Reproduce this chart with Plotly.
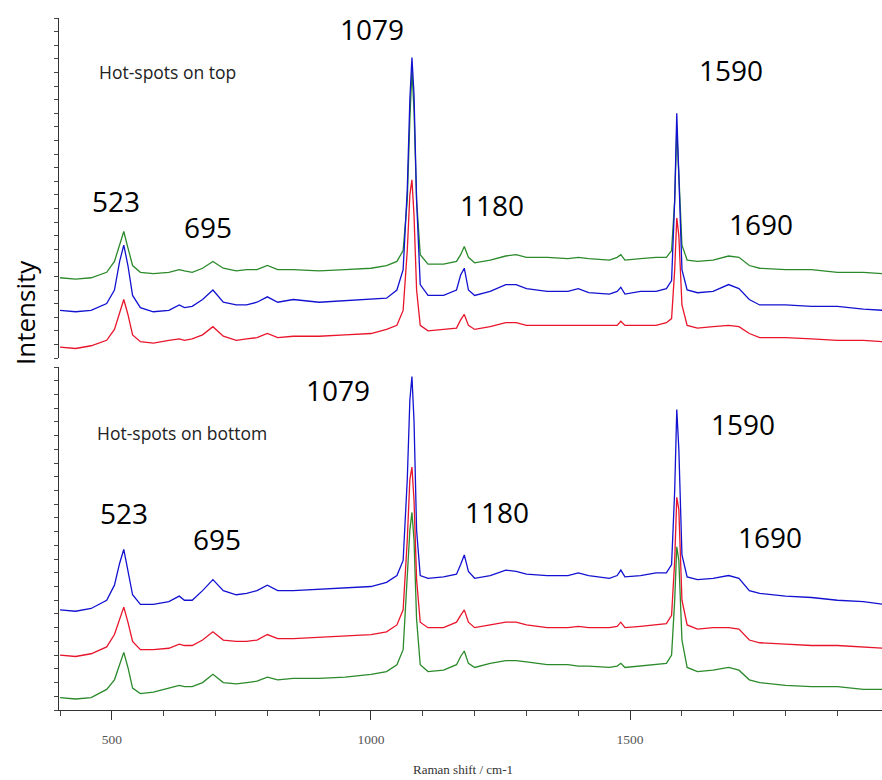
import plotly.graph_objects as go
from plotly.subplots import make_subplots

# ---------------- data ----------------
wavenumber = [400, 430, 460, 490, 505, 515, 523, 531, 540, 555, 580, 610, 630, 640, 655, 675, 695, 715,
              740, 760, 780, 800, 820, 850, 900, 950, 1000, 1030, 1050, 1062, 1070, 1075, 1079, 1083,
              1088, 1095, 1110, 1140, 1165, 1173, 1180, 1188, 1200, 1230, 1260, 1280, 1300, 1340, 1380,
              1400, 1420, 1460, 1475, 1482, 1490, 1520, 1550, 1570, 1580, 1586, 1590, 1594, 1600, 1610,
              1630, 1660, 1690, 1710, 1730, 1750, 1800, 1850, 1900, 1950, 1990]

# top panel: "Hot-spots on top"
top_green = [5.9, 5.8, 5.9, 6.3, 7.1, 8.3, 9.3, 8.1, 6.8, 6.3, 6.2, 6.3, 6.5, 6.4, 6.3, 6.6, 7.1, 6.6,
             6.4, 6.5, 6.5, 6.8, 6.5, 6.5, 6.4, 6.5, 6.6, 6.8, 7.1, 7.9, 11.6, 17.5, 21.2, 18.2,
             11.6, 7.6, 6.9, 6.9, 7.1, 7.6, 8.2, 7.4, 7.0, 7.2, 7.5, 7.6, 7.4, 7.4, 7.3,
             7.4, 7.3, 7.2, 7.4, 7.6, 7.2, 7.3, 7.4, 7.4, 7.9, 11.6, 16.8, 13.5, 8.3, 7.2,
             7.1, 7.2, 7.5, 7.4, 6.8, 6.6, 6.5, 6.5, 6.3, 6.3, 6.2]
top_blue = [3.5, 3.4, 3.5, 4.0, 5.0, 7.1, 8.3, 6.8, 4.6, 3.7, 3.4, 3.5, 3.9, 3.7, 3.8, 4.3, 5.0, 4.1,
            3.9, 3.9, 4.1, 4.5, 4.1, 4.3, 4.1, 4.2, 4.3, 4.4, 5.0, 6.5, 12.4, 19.0, 22.1, 19.4,
            11.6, 5.4, 4.6, 4.6, 5.0, 6.1, 6.6, 5.0, 4.6, 4.9, 5.4, 5.4, 5.1, 4.9, 4.9,
            5.1, 4.8, 4.7, 4.9, 5.2, 4.7, 4.9, 4.9, 5.1, 5.7, 11.6, 18.0, 13.8, 6.5, 5.0,
            4.8, 4.9, 5.4, 5.1, 4.3, 3.9, 3.9, 3.8, 3.8, 3.6, 3.5]
top_red = [0.8, 0.7, 0.9, 1.3, 2.1, 3.4, 4.3, 3.2, 1.7, 1.2, 1.1, 1.3, 1.4, 1.3, 1.4, 1.7, 2.3, 1.6,
           1.3, 1.4, 1.5, 1.8, 1.5, 1.6, 1.6, 1.7, 1.8, 2.1, 2.4, 3.5, 7.9, 12.0, 13.1, 10.5,
           5.0, 2.4, 2.0, 2.1, 2.2, 2.8, 3.2, 2.4, 2.1, 2.3, 2.6, 2.6, 2.4, 2.4, 2.4,
           2.4, 2.4, 2.4, 2.4, 2.7, 2.4, 2.4, 2.4, 2.6, 2.9, 6.5, 10.3, 9.0, 3.9, 2.4,
           2.2, 2.3, 2.4, 2.3, 1.8, 1.5, 1.5, 1.4, 1.3, 1.3, 1.2]

# bottom panel: "Hot-spots on bottom"
bot_blue = [7.3, 7.2, 7.4, 8.0, 9.1, 10.7, 11.7, 10.2, 8.4, 7.7, 7.7, 7.9, 8.3, 8.0, 8.0, 8.7, 9.5, 8.7,
            8.4, 8.5, 8.7, 9.1, 8.7, 8.7, 8.8, 8.9, 9.0, 9.3, 9.8, 10.9, 16.8, 22.6, 24.3, 21.1,
            13.1, 9.8, 9.6, 9.7, 9.9, 10.6, 11.3, 10.1, 9.6, 9.8, 10.2, 10.1, 9.9, 9.8, 9.8,
            10.0, 9.8, 9.6, 9.8, 10.2, 9.7, 9.8, 10.0, 10.0, 10.6, 16.0, 21.9, 19.0, 11.3, 9.7,
            9.5, 9.6, 9.8, 9.6, 8.7, 8.5, 8.3, 8.2, 8.0, 7.9, 7.7]
bot_red = [4.0, 3.9, 4.1, 4.6, 5.5, 6.7, 7.5, 6.4, 5.0, 4.4, 4.4, 4.5, 4.8, 4.7, 4.7, 5.1, 5.7, 5.1,
           5.0, 5.0, 5.1, 5.5, 5.2, 5.2, 5.3, 5.4, 5.5, 5.7, 6.2, 7.3, 12.4, 16.8, 17.7, 15.3,
           9.5, 6.4, 6.0, 6.0, 6.4, 6.9, 7.3, 6.4, 6.0, 6.2, 6.4, 6.4, 6.2, 6.0, 6.0,
           6.1, 6.0, 6.0, 6.1, 6.4, 6.0, 6.1, 6.2, 6.3, 6.9, 10.9, 15.5, 14.6, 8.0, 6.2,
           5.9, 6.0, 6.0, 5.9, 5.1, 4.9, 4.8, 4.7, 4.7, 4.6, 4.5]
bot_green = [0.9, 0.8, 0.9, 1.5, 2.2, 3.4, 4.2, 3.1, 1.6, 1.2, 1.3, 1.6, 1.8, 1.7, 1.7, 2.0, 2.6, 2.0,
             1.9, 2.0, 2.1, 2.4, 2.2, 2.3, 2.3, 2.4, 2.6, 2.8, 3.3, 4.4, 9.5, 13.1, 14.4, 12.4,
             6.6, 3.3, 2.8, 2.9, 3.3, 3.9, 4.3, 3.4, 3.1, 3.4, 3.6, 3.6, 3.5, 3.3, 3.3,
             3.2, 3.2, 3.1, 3.2, 3.4, 3.1, 3.2, 3.3, 3.4, 4.0, 8.0, 11.9, 10.9, 5.1, 3.1,
             2.8, 2.9, 3.1, 2.9, 2.2, 2.0, 1.8, 1.7, 1.7, 1.5, 1.5]

peak_labels = ["523", "695", "1079", "1180", "1590", "1690"]
panel_titles = ["Hot-spots on top", "Hot-spots on bottom"]
x_ticks = [500, 1000, 1500]
x_title = "Raman shift / cm-1"
y_title = "Intensity"

# ---------------- layout constants ----------------
W, H = 882, 780
ML, MR, MT, MB = 59, 0, 18, 70
PW, PH = W - ML - MR, H - MT - MB

def px(xp):
    return (xp - ML) / PW

def py(yp):
    return (H - MB - yp) / PH

GREEN = "#2b8a2b"
BLUE = "#1212d0"
RED = "#e8152b"
LBL_FONT = "'Open Sans', Lato, sans-serif"
SERIF = "'Liberation Serif', 'Times New Roman', serif"

fig = make_subplots(rows=2, cols=1, shared_xaxes=True)

def line(y, color, row):
    fig.add_trace(go.Scatter(x=wavenumber, y=y, mode="lines",
                             line=dict(color=color, width=1.3), showlegend=False,
                             hoverinfo="skip"), row=row, col=1)

line(top_green, GREEN, 1)
line(top_blue, BLUE, 1)
line(top_red, RED, 1)
line(bot_blue, BLUE, 2)
line(bot_green, GREEN, 2)
line(bot_red, RED, 2)

yax = dict(range=[0, 25], dtick=1, tick0=0, ticks="outside", ticklen=4, tickwidth=1,
           tickcolor="#444", showticklabels=False, showline=True, linecolor="#333",
           linewidth=1.2, showgrid=False, zeroline=False, fixedrange=True)

fig.update_layout(
    width=W, height=H,
    margin=dict(l=ML, r=MR, t=MT, b=MB),
    paper_bgcolor="white", plot_bgcolor="white",
    xaxis=dict(range=[398, 1986], domain=[0, 1], showline=False, ticks="",
               showticklabels=False, showgrid=False, zeroline=False),
    xaxis2=dict(range=[398, 1986], domain=[0, 1], showline=True, linecolor="#333", linewidth=1.2,
                tickvals=x_ticks, ticks="outside", ticklen=9, tickwidth=1.2, tickcolor="#333",
                ticklabelstandoff=8,
                tickfont=dict(family=SERIF, size=13.5, color="#555"),
                minor=dict(dtick=100, tick0=0, ticks="outside", ticklen=5, tickcolor="#444",
                           showgrid=False),
                showgrid=False, zeroline=False),
    yaxis=dict(domain=[py(358), py(18)], **yax),
    yaxis2=dict(domain=[py(710), py(367)], **yax),
)

ann = []
def text(t, xp, yp, size, family=LBL_FONT, xanchor="center", angle=0, color="black"):
    ann.append(dict(text=t, x=px(xp), y=py(yp), xref="paper", yref="paper",
                    xanchor=xanchor, yanchor="middle", showarrow=False, textangle=angle,
                    font=dict(family=family, size=size, color=color)))

top_pos = [(116, 201), (208, 227), (372, 29), (492, 205), (731, 70), (761, 224)]
bot_pos = [(124, 513), (217, 539), (338, 390), (497, 512), (743, 424), (770, 537)]
for lbl, (xp, yp) in zip(peak_labels, top_pos):
    text(lbl, xp, yp, 28)
for lbl, (xp, yp) in zip(peak_labels, bot_pos):
    text(lbl, xp, yp, 28)

text(panel_titles[0], 97, 72, 17.5, xanchor="left", color="#222")
text(panel_titles[1], 95, 433, 17.5, xanchor="left", color="#222")
text(x_title, 463, 769, 13, family=SERIF, color="#333")
text(y_title, 25, 313, 26, angle=-90)

fig.update_layout(annotations=ann)

fig.write_html("out.html")
